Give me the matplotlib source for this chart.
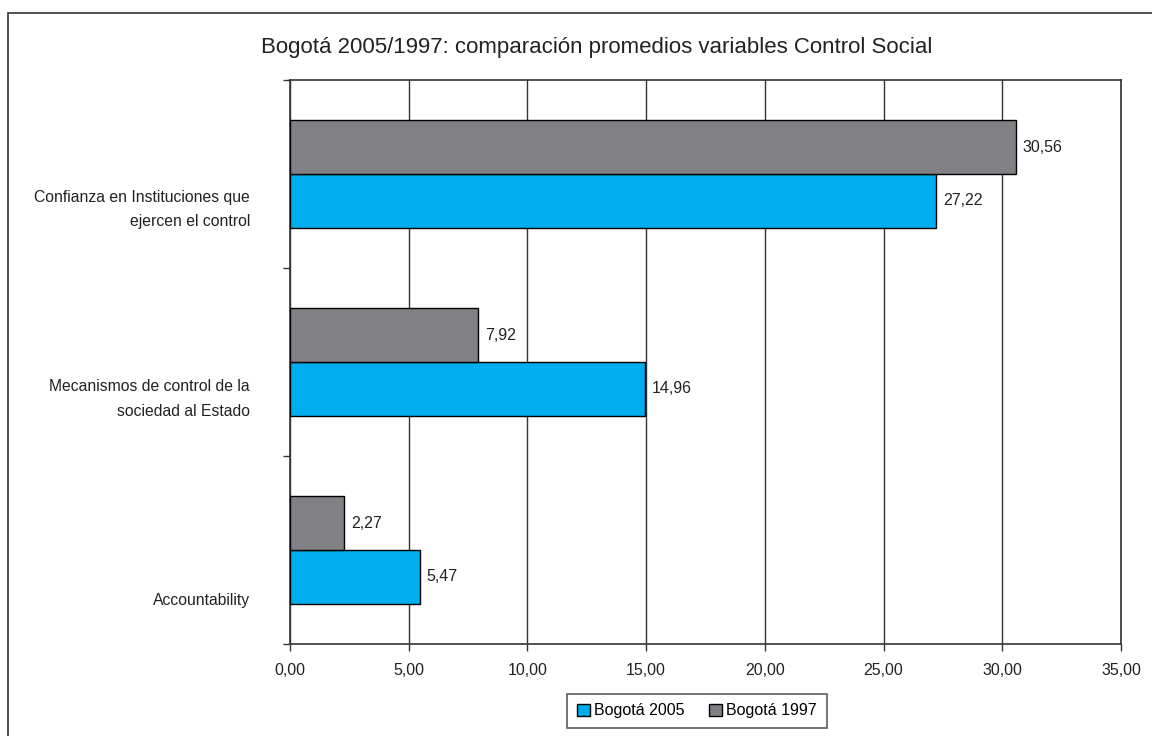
import matplotlib
matplotlib.use("Agg")
import matplotlib.pyplot as plt
from matplotlib.patches import Rectangle
from matplotlib.ticker import FuncFormatter
import numpy as np

plt.rcParams['font.family'] = ['Liberation Sans', 'DejaVu Sans']

# === DATOS ===
categorias = ['Accountability',
              'Mecanismos de control de la\nsociedad al Estado',
              'Confianza en Instituciones que\nejercen el control']
bogota_2005 = [5.47, 14.96, 27.22]
bogota_1997 = [2.27, 7.92, 30.56]
ticks_x = [0, 5, 10, 15, 20, 25, 30, 35]

color_2005 = '#00AEEF'
color_1997 = '#808085'
color_linea = '#333333'

fig = plt.figure(figsize=(11.52, 7.36), dpi=100)
ax = fig.add_axes([290 / 1152, 1 - 644 / 736, 831 / 1152, 564 / 736])

# borde exterior del grafico
fig.patches.append(Rectangle((8 / 1152, -0.05), 1.2, 1 - 13 / 736 + 0.05,
                             transform=fig.transFigure, fill=False,
                             edgecolor=color_linea, linewidth=1.2))

y = np.arange(len(categorias))
alto = 0.287
ax.barh(y - alto / 2, bogota_2005, height=alto, color=color_2005,
        edgecolor='black', linewidth=1, label='Bogotá 2005', zorder=3)
ax.barh(y + alto / 2, bogota_1997, height=alto, color=color_1997,
        edgecolor='black', linewidth=1, label='Bogotá 1997', zorder=3)

def coma(v):
    return f'{v:.2f}'.replace('.', ',')

for yi, v in zip(y, bogota_2005):
    ax.annotate(coma(v), (v, yi - alto / 2), xytext=(5, 0),
                textcoords='offset points', va='center', ha='left',
                fontsize=11.5, color='#222222')
for yi, v in zip(y, bogota_1997):
    ax.annotate(coma(v), (v, yi + alto / 2), xytext=(5, 0),
                textcoords='offset points', va='center', ha='left',
                fontsize=11.5, color='#222222')

ax.set_xlim(0, 35)
ax.set_ylim(-0.5, 2.5)
ax.set_xticks(ticks_x)
ax.xaxis.set_major_formatter(FuncFormatter(lambda v, p: coma(v)))
ax.set_yticks([-0.5, 0.5, 1.5, 2.5])
ax.set_yticklabels([])
ax.tick_params(axis='both', direction='out', length=5, width=1,
               color=color_linea, labelsize=11.5, labelcolor='#222222')
ax.tick_params(axis='x', pad=9)
ax.grid(axis='x', color=color_linea, linewidth=1, zorder=0)
for s in ax.spines.values():
    s.set_color(color_linea)
    s.set_linewidth(1.2)

# etiquetas de categorias (desplazadas hacia abajo como en el original)
desplaz = [-0.271, -0.197, -0.189]
for yi, texto, d in zip(y, categorias, desplaz):
    ax.text(-40 / 831 * 35, yi + d, texto, ha='right', va='center',
            fontsize=11.3, color='#222222', linespacing=1.8)

fig.text(597 / 1152, 1 - 47 / 736,
         'Bogotá 2005/1997: comparación promedios variables Control Social',
         ha='center', va='center', fontsize=16, color='#222222')

leg = fig.legend(loc='center', bbox_to_anchor=(697 / 1152, 1 - 711 / 736),
                 ncol=2, fontsize=11.5, frameon=True, fancybox=False,
                 edgecolor=color_linea, handlelength=0.8, handleheight=0.8,
                 handletextpad=0.3, columnspacing=1.5, borderpad=0.6)
leg.get_frame().set_linewidth(1.2)

fig.savefig('out.png', dpi=100)
